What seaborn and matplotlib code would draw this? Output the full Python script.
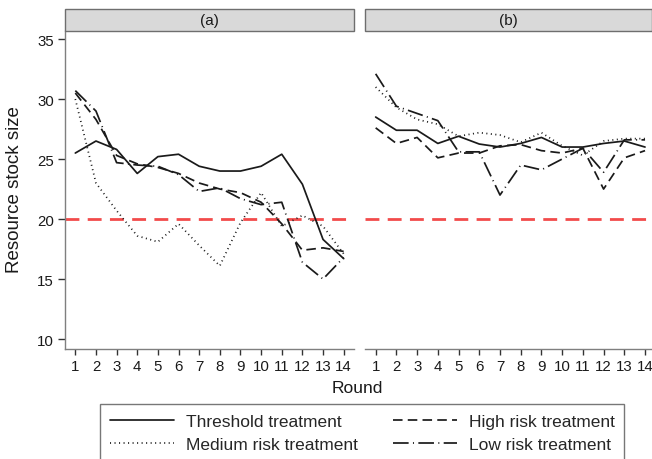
import numpy as np
import pandas as pd
import matplotlib
matplotlib.use("Agg")
import matplotlib.pyplot as plt
from matplotlib.lines import Line2D
from matplotlib.patches import Rectangle
import seaborn as sns

sns.set_style("white")
plt.rcParams["font.family"] = ["Liberation Sans", "DejaVu Sans"]

rounds = list(range(1, 15))
panels = ["(a)", "(b)"]
treatments = ["Threshold treatment", "Medium risk treatment",
              "High risk treatment", "Low risk treatment"]

# Mean resource stock size per round, panel (a)
a_threshold = [25.5, 26.5, 25.8, 23.8, 25.2, 25.4, 24.4, 24.0, 24.0, 24.4, 25.4, 22.9, 18.3, 16.7]
a_medium    = [30.0, 23.0, 20.7, 18.6, 18.1, 19.6, 17.8, 16.1, 19.7, 22.2, 19.4, 20.3, 19.4, 17.1]
a_high      = [30.5, 28.3, 25.3, 24.6, 24.3, 23.8, 23.0, 22.5, 22.2, 21.4, 19.6, 17.4, 17.6, 17.3]
a_low       = [30.7, 29.0, 24.7, 24.5, 24.4, 23.7, 22.3, 22.6, 21.7, 21.2, 21.4, 16.4, 15.0, 16.8]

# Mean resource stock size per round, panel (b)
b_threshold = [28.5, 27.4, 27.4, 26.3, 26.9, 26.25, 26.0, 26.3, 26.8, 26.0, 26.0, 26.3, 26.5, 26.0]
b_medium    = [31.0, 29.3, 28.3, 27.9, 26.9, 27.2, 27.0, 26.4, 27.2, 26.1, 25.3, 26.5, 26.7, 26.7]
b_high      = [27.6, 26.3, 26.8, 25.1, 25.5, 25.5, 26.1, 26.2, 25.7, 25.5, 25.9, 22.5, 25.1, 25.7]
b_low       = [32.1, 29.4, 28.8, 28.2, 25.6, 25.6, 22.0, 24.5, 24.1, 25.0, 25.9, 23.9, 26.6, 26.6]

threshold_level = 20
y_ticks = [10, 15, 20, 25, 30, 35]

series = {
    "(a)": [a_threshold, a_medium, a_high, a_low],
    "(b)": [b_threshold, b_medium, b_high, b_low],
}
rows = []
for p in panels:
    for t, vals in zip(treatments, series[p]):
        for r, v in zip(rounds, vals):
            rows.append({"panel": p, "treatment": t, "round": r, "stock": v})
df = pd.DataFrame(rows)

dash_map = {
    "Threshold treatment": "",
    "Medium risk treatment": (0.6, 2.0),
    "High risk treatment": (5.5, 3.0),
    "Low risk treatment": (9.0, 2.5, 0.6, 2.5),
}
line_color = "#1a1a1a"
axis_gray = "#7f7f7f"

W, H = 652, 460
fig = plt.figure(figsize=(W / 100, H / 100), dpi=100)

def fx(px):
    return px / W

def fy(py):
    return 1 - py / H

plot_top, plot_bot = 32, 350
strip_top = 10
panel_boxes = {"(a)": (65.0, 354.0), "(b)": (365.3, 655.4)}

for i, p in enumerate(panels):
    x0, x1 = panel_boxes[p]
    ax = fig.add_axes([fx(x0), fy(plot_bot), fx(x1 - x0), (plot_bot - plot_top) / H])
    sub = df[df.panel == p]
    sns.lineplot(data=sub, x="round", y="stock", hue="treatment", style="treatment",
                 palette={t: line_color for t in treatments}, dashes=dash_map,
                 hue_order=treatments, style_order=treatments,
                 linewidth=1.25, legend=False, ax=ax)
    ax.axhline(threshold_level, color="#f24b4b", linewidth=2.0, dashes=(5, 3), zorder=1)
    ax.set_xlim(0.5, 14.5)
    ax.set_ylim(9.17, 35.67)
    ax.set_xticks(rounds)
    ax.set_xticklabels([str(r) for r in rounds], fontsize=10.8)
    ax.set_xlabel("")
    ax.set_ylabel("")
    for s in ["top", "right"]:
        ax.spines[s].set_visible(False)
    ax.spines["bottom"].set_color(axis_gray)
    ax.spines["bottom"].set_linewidth(1.0)
    ax.tick_params(axis="x", direction="out", length=4, width=1.0, color="#333333",
                   pad=3, labelcolor="#1a1a1a", bottom=True)
    if i == 0:
        ax.spines["left"].set_color(axis_gray)
        ax.spines["left"].set_linewidth(1.0)
        ax.set_yticks(y_ticks)
        ax.set_yticklabels([str(v) for v in y_ticks], fontsize=10.8)
        ax.tick_params(axis="y", direction="out", length=5, width=1.0, color="#333333",
                       pad=3, labelcolor="#1a1a1a", left=True)
    else:
        ax.spines["left"].set_visible(False)
        ax.set_yticks([])
    ax.set_facecolor("white")

    # facet strip
    sx0 = x0
    sx1 = min(x1, 651.5)
    fig.patches.append(Rectangle((fx(sx0), fy(plot_top)), fx(sx1 - sx0),
                                 (plot_top - strip_top) / H, transform=fig.transFigure,
                                 facecolor="#d9d9d9", edgecolor="#6e6e6e", linewidth=1.0))
    fig.text(fx((x0 + x1) / 2 if i == 0 else (x0 + x1) / 2 - 1.5),
             fy((plot_top + strip_top) / 2), p, ha="center", va="center",
             fontsize=11, color="#1a1a1a")

fig.text(fx(15), fy(190), "Resource stock size", rotation=90, ha="center", va="center",
         fontsize=13.5, color="#1a1a1a")
fig.text(fx(357), fy(389), "Round", ha="center", va="center", fontsize=12.5, color="#1a1a1a")

handles = [Line2D([0], [0], color=line_color, linewidth=1.25,
                  linestyle=(0, dash_map[t]) if dash_map[t] else "-")
           for t in treatments]
leg = fig.legend(handles, treatments,
                 loc="upper left", bbox_to_anchor=(fx(100), fy(405)), ncol=2,
                 frameon=True, fancybox=False, fontsize=12.5, handlelength=3.7,
                 handletextpad=0.7, columnspacing=2.0, borderpad=0.55,
                 labelspacing=0.48, borderaxespad=0)
leg.get_frame().set_edgecolor("#555555")
leg.get_frame().set_linewidth(1.0)

fig.savefig("out.png", dpi=100)
